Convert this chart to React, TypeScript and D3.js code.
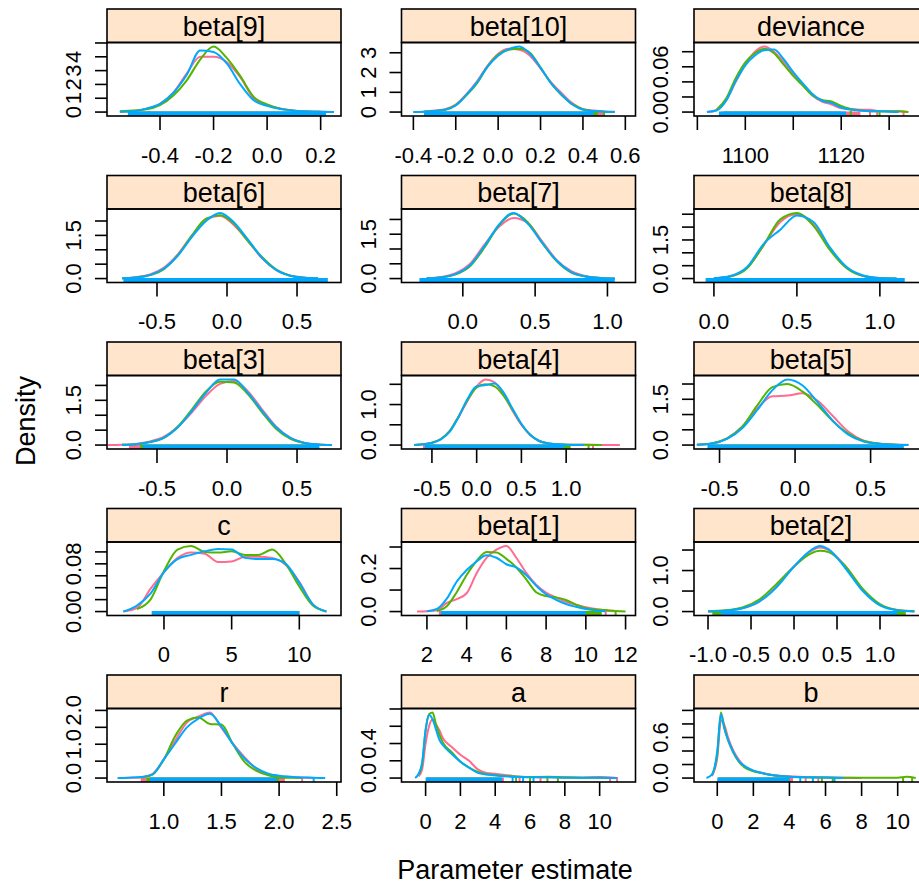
import * as d3 from "d3";

type Dens = (number | null)[];

// chains: pink, green, blue
const chainColors = ["#FF6C91", "#53B400", "#00A9FF"];

// ---- beta[9]
const beta9X = [-0.55, -0.5, -0.45, -0.4, -0.35, -0.3, -0.25, -0.2, -0.15, -0.1, -0.05, 0, 0.05, 0.1, 0.15, 0.2, 0.25];
const beta9Dens: Dens[] = [
  [0.01, 0.08, 0.25, 0.6, 1.4, 2.8, 4.0, 4.0, 3.6, 2.5, 1.0, 0.5, 0.25, 0.12, 0.06, 0.03, 0.01],
  [0.05, 0.12, 0.2, 0.5, 1.2, 2.3, 3.8, 4.75, 3.9, 2.6, 1.1, 0.55, 0.25, 0.1, 0.04, 0.02, null],
  [0.02, 0.05, 0.25, 0.6, 1.4, 2.7, 4.45, 4.35, 3.5, 2.0, 0.85, 0.45, 0.22, 0.1, 0.04, 0.02, 0.0],
];
const beta9Rug = [[-0.48, 0.2], [-0.5, 0.16, -0.44], [-0.52, 0.22]];
const beta9XLim = [-0.598, 0.276];
const beta9XTicks = [-0.4, -0.2, 0, 0.2];
const beta9XLabels = ["-0.4", "-0.2", "0.0", "0.2"];
const beta9YTicks = [0, 1, 2, 3, 4, 5];
const beta9YLabels = ["0", "1", "2", "3", "4", ""];

// ---- beta[10]
const beta10X = [-0.4, -0.35, -0.3, -0.25, -0.2, -0.15, -0.1, -0.05, 0, 0.05, 0.1, 0.15, 0.2, 0.25, 0.3, 0.35, 0.4, 0.45, 0.5, 0.55];
const beta10Dens: Dens[] = [
  [0.0, 0.02, 0.08, 0.15, 0.38, 0.9, 1.55, 2.35, 2.95, 3.2, 3.15, 2.85, 2.2, 1.5, 0.95, 0.45, 0.15, 0.08, 0.03, 0.01],
  [null, 0.03, 0.06, 0.12, 0.35, 0.85, 1.45, 2.3, 2.9, 3.15, 3.2, 3.0, 2.25, 1.45, 0.85, 0.4, 0.15, 0.06, 0.02, 0.0],
  [0.0, 0.02, 0.06, 0.12, 0.33, 0.87, 1.5, 2.3, 2.85, 3.18, 3.32, 2.95, 2.25, 1.45, 0.88, 0.38, 0.12, 0.05, 0.02, 0.0],
];
const beta10Rug = [[-0.33, 0.5], [-0.32, 0.47, 0.5], [-0.35, 0.45]];
const beta10XLim = [-0.456, 0.648];
const beta10XTicks = [-0.4, -0.2, 0, 0.2, 0.4, 0.6];
const beta10XLabels = ["-0.4", "-0.2", "0.0", "0.2", "0.4", "0.6"];
const beta10YTicks = [0, 1, 2, 3];
const beta10YLabels = ["0", "1", "2", "3"];

// ---- deviance
const devX = [1092, 1094, 1096, 1098, 1100, 1102, 1104, 1106, 1108, 1110, 1112, 1114, 1116, 1118, 1120, 1122, 1124, 1126, 1128, 1130, 1132, 1134];
const devDens: Dens[] = [
  [0, 0.003, 0.016, 0.04, 0.063, 0.08, 0.087, 0.08, 0.066, 0.05, 0.036, 0.022, 0.014, 0.01, 0.005, 0.004, 0.003, 0.003, 0.001, 0.001, 0.001, 0],
  [null, 0.003, 0.018, 0.045, 0.066, 0.078, 0.084, 0.078, 0.063, 0.048, 0.035, 0.022, 0.016, 0.014, 0.008, 0.004, 0.002, 0.001, 0.001, 0.001, 0.001, 0],
  [0, 0.002, 0.015, 0.041, 0.062, 0.075, 0.082, 0.083, 0.07, 0.053, 0.038, 0.024, 0.015, 0.012, 0.006, 0.003, 0.002, 0.001, 0.001, 0.0005, 0, null],
];
const devRug = [[1095, 1124, 1126, 1127.5, 1133], [1095.5, 1120, 1122, 1128], [1094.5, 1121]];
const devXLim = [1089.3, 1138.1];
const devXTicks = [1090, 1100, 1110, 1120, 1130];
const devXLabels = ["", "1100", "", "1120", ""];
const devYTicks = [0, 0.02, 0.04, 0.06, 0.08];
const devYLabels = ["0.00", "", "", "0.06", ""];

// ---- beta[6]
const beta6X = [-0.75, -0.65, -0.55, -0.45, -0.35, -0.25, -0.15, -0.05, 0.05, 0.15, 0.25, 0.35, 0.45, 0.55, 0.65];
const beta6Dens: Dens[] = [
  [0.01, 0.05, 0.14, 0.38, 0.85, 1.5, 2.05, 2.18, 1.85, 1.3, 0.7, 0.3, 0.11, 0.04, 0.01],
  [0.01, 0.04, 0.12, 0.33, 0.82, 1.5, 2.08, 2.2, 1.9, 1.3, 0.75, 0.32, 0.1, 0.03, 0.01],
  [0.01, 0.04, 0.12, 0.35, 0.8, 1.45, 2.0, 2.28, 1.95, 1.35, 0.72, 0.3, 0.1, 0.03, 0.01],
];
const beta6Rug = [[-0.72, 0.7], [-0.7, 0.68], [-0.74, 0.72]];
const beta6XLim = [-0.857, 0.814];
const beta6XTicks = [-0.5, 0, 0.5];
const beta6XLabels = ["-0.5", "0.0", "0.5"];
const beta6YTicks = [0, 0.5, 1, 1.5, 2];
const beta6YLabels = ["0.0", "", "", "1.5", ""];

// ---- beta[7]
const beta7X = [-0.25, -0.15, -0.05, 0.05, 0.15, 0.25, 0.35, 0.45, 0.55, 0.65, 0.75, 0.85, 0.95, 1.05];
const beta7Dens: Dens[] = [
  [0.01, 0.05, 0.18, 0.5, 1.15, 1.75, 2.05, 1.88, 1.25, 0.62, 0.25, 0.08, 0.02, 0.0],
  [0.01, 0.04, 0.14, 0.42, 1.05, 1.8, 2.2, 1.9, 1.2, 0.58, 0.2, 0.07, 0.02, 0.0],
  [0.01, 0.04, 0.15, 0.45, 1.1, 1.82, 2.22, 1.85, 1.2, 0.6, 0.22, 0.07, 0.02, 0.0],
];
const beta7Rug = [[-0.28, 1.0], [-0.25, 0.98], [-0.3, 1.05]];
const beta7XLim = [-0.424, 1.194];
const beta7XTicks = [0, 0.5, 1];
const beta7XLabels = ["0.0", "0.5", "1.0"];
const beta7YTicks = [0, 0.5, 1, 1.5, 2];
const beta7YLabels = ["0.0", "", "", "1.5", ""];

// ---- beta[8]
const beta8X = [0.0, 0.1, 0.2, 0.3, 0.4, 0.5, 0.6, 0.7, 0.8, 0.9, 1.0, 1.1];
const beta8Dens: Dens[] = [
  [0.01, 0.09, 0.42, 1.3, 2.2, 2.5, 2.1, 1.15, 0.42, 0.1, 0.02, 0.0],
  [0.01, 0.08, 0.4, 1.3, 2.3, 2.55, 2.05, 1.1, 0.4, 0.1, 0.02, 0.0],
  [0.01, 0.1, 0.45, 1.35, 1.9, 2.45, 2.2, 1.2, 0.45, 0.12, 0.02, 0.0],
];
const beta8Rug = [[0.0, 1.1], [0.02, 1.08], [-0.05, 1.15]];
const beta8XLim = [-0.12, 1.29];
const beta8XTicks = [0, 0.5, 1];
const beta8XLabels = ["0.0", "0.5", "1.0"];
const beta8YTicks = [0, 0.5, 1, 1.5, 2, 2.5];
const beta8YLabels = ["0.0", "", "", "1.5", "", ""];

// ---- beta[3]
const beta3X = [-0.85, -0.75, -0.65, -0.55, -0.45, -0.35, -0.25, -0.15, -0.05, 0.05, 0.15, 0.25, 0.35, 0.45, 0.55, 0.65, 0.75];
const beta3Dens: Dens[] = [
  [0.0, 0.01, 0.04, 0.12, 0.28, 0.62, 1.1, 1.65, 2.05, 2.15, 1.8, 1.2, 0.62, 0.25, 0.08, 0.02, 0.0],
  [null, 0.01, 0.03, 0.1, 0.24, 0.62, 1.2, 1.8, 2.12, 2.1, 1.7, 1.1, 0.55, 0.22, 0.07, 0.02, 0.0],
  [null, 0.01, 0.03, 0.1, 0.25, 0.6, 1.15, 1.75, 2.2, 2.2, 1.75, 1.15, 0.6, 0.25, 0.08, 0.02, 0.0],
];
const beta3Rug = [[-0.7, 0.62], [-0.62, 0.6], [-0.6, 0.66]];
const beta3XLim = [-0.857, 0.814];
const beta3XTicks = [-0.5, 0, 0.5];
const beta3XLabels = ["-0.5", "0.0", "0.5"];
const beta3YTicks = [0, 0.5, 1, 1.5, 2];
const beta3YLabels = ["0.0", "", "", "1.5", ""];

// ---- beta[4]
const beta4X = [-0.7, -0.6, -0.5, -0.4, -0.3, -0.2, -0.1, 0, 0.1, 0.2, 0.3, 0.4, 0.5, 0.6, 0.7, 0.8, 0.9, 1.0, 1.2, 1.4, 1.6];
const beta4Dens: Dens[] = [
  [0.0, 0.02, 0.06, 0.15, 0.35, 0.7, 1.1, 1.45, 1.62, 1.55, 1.25, 0.85, 0.5, 0.25, 0.1, 0.04, 0.02, 0.01, 0.005, 0.003, 0.0],
  [0.0, 0.02, 0.06, 0.15, 0.35, 0.72, 1.12, 1.42, 1.5, 1.45, 1.22, 0.88, 0.52, 0.25, 0.1, 0.04, 0.02, 0.01, 0.005, 0.0, null],
  [0.0, 0.02, 0.05, 0.14, 0.33, 0.7, 1.15, 1.45, 1.48, 1.52, 1.3, 0.9, 0.52, 0.25, 0.1, 0.04, 0.02, 0.01, 0.0, null, null],
];
const beta4Rug = [[-0.6, 1.0, 1.3], [-0.55, 1.05, 1.25], [-0.58, 0.98]];
const beta4XLim = [-0.84, 1.775];
const beta4XTicks = [-0.5, 0, 0.5, 1];
const beta4XLabels = ["-0.5", "0.0", "0.5", "1.0"];
const beta4YTicks = [0, 0.5, 1, 1.5];
const beta4YLabels = ["0.0", "", "1.0", ""];

// ---- beta[5]
const beta5X = [-0.65, -0.55, -0.45, -0.35, -0.25, -0.15, -0.05, 0.05, 0.15, 0.25, 0.35, 0.45, 0.55, 0.65, 0.75];
const beta5Dens: Dens[] = [
  [0.01, 0.05, 0.22, 0.6, 1.2, 1.6, 1.62, 1.7, 1.45, 0.95, 0.45, 0.15, 0.05, 0.02, 0.01],
  [0.01, 0.06, 0.22, 0.6, 1.3, 1.9, 2.0, 1.75, 1.3, 0.78, 0.38, 0.14, 0.05, 0.02, 0.0],
  [0.01, 0.05, 0.2, 0.55, 1.15, 1.8, 2.15, 1.95, 1.4, 0.8, 0.35, 0.12, 0.04, 0.01, 0.0],
];
const beta5Rug = [[-0.55, 0.7], [-0.55, 0.68], [-0.58, 0.72]];
const beta5XLim = [-0.669, 0.88];
const beta5XTicks = [-0.5, 0, 0.5];
const beta5XLabels = ["-0.5", "0.0", "0.5"];
const beta5YTicks = [0, 0.5, 1, 1.5, 2];
const beta5YLabels = ["0.0", "", "", "1.5", ""];

// ---- c
const cX = [-3, -2, -1, 0, 1, 2, 3, 4, 5, 6, 7, 8, 9, 10, 11, 12];
const cDens: Dens[] = [
  [0.0, 0.006, 0.038, 0.066, 0.09, 0.099, 0.097, 0.083, 0.084, 0.092, 0.092, 0.09, 0.078, 0.05, 0.012, 0.0],
  [null, 0.004, 0.02, 0.068, 0.104, 0.11, 0.1, 0.099, 0.101, 0.095, 0.095, 0.104, 0.08, 0.042, 0.01, 0.0],
  [0.0, 0.01, 0.03, 0.066, 0.088, 0.095, 0.101, 0.105, 0.104, 0.09, 0.088, 0.088, 0.08, 0.048, 0.012, 0.0],
];
const cRug = [[-0.9, 10], [-0.8, 10], [-0.9, 10]];
const cXLim = [-4.21, 13.08];
const cXTicks = [0, 5, 10];
const cXLabels = ["0", "5", "10"];
const cYTicks = [0, 0.02, 0.04, 0.06, 0.08, 0.1];
const cYLabels = ["0.00", "", "", "", "0.08", ""];

// ---- beta[1]
const beta1X = [1.5, 2, 2.5, 3, 3.5, 4, 4.5, 5, 5.5, 6, 6.5, 7, 7.5, 8, 8.5, 9, 9.5, 10, 10.5, 11, 11.5, 12];
const beta1Dens: Dens[] = [
  [0, 0.002, 0.006, 0.04, 0.058, 0.085, 0.178, 0.25, 0.288, 0.305, 0.25, 0.18, 0.125, 0.088, 0.065, 0.045, 0.032, 0.02, 0.012, 0.004, 0.001, null],
  [null, null, 0.003, 0.025, 0.09, 0.17, 0.235, 0.277, 0.275, 0.245, 0.205, 0.15, 0.09, 0.072, 0.066, 0.054, 0.032, 0.016, 0.01, 0.007, 0.003, 0],
  [null, 0.002, 0.012, 0.06, 0.139, 0.193, 0.233, 0.262, 0.25, 0.22, 0.205, 0.17, 0.12, 0.08, 0.055, 0.035, 0.022, 0.012, 0.005, 0.001, null, null],
];
const beta1Rug = [[2.6, 10.5, 11], [2.9, 10.8, 11.5], [2.7, 10]];
const beta1XLim = [0.72, 12.5];
const beta1XTicks = [2, 4, 6, 8, 10, 12];
const beta1XLabels = ["2", "4", "6", "8", "10", "12"];
const beta1YTicks = [0, 0.1, 0.2, 0.3];
const beta1YLabels = ["0.0", "", "0.2", ""];

// ---- beta[2]
const beta2X = [-1.0, -0.8, -0.6, -0.4, -0.2, 0.0, 0.2, 0.3, 0.4, 0.6, 0.8, 1.0, 1.2, 1.4];
const beta2Dens: Dens[] = [
  [0.0, 0.02, 0.08, 0.25, 0.62, 1.1, 1.48, 1.56, 1.5, 1.1, 0.52, 0.16, 0.04, 0.01],
  [0.01, 0.03, 0.1, 0.3, 0.68, 1.1, 1.42, 1.48, 1.45, 1.1, 0.55, 0.18, 0.04, 0.01],
  [0.0, 0.02, 0.08, 0.25, 0.6, 1.1, 1.5, 1.6, 1.52, 1.05, 0.5, 0.15, 0.03, 0.0],
];
const beta2Rug = [[-0.9, 1.25], [-0.95, 1.3], [-0.85, 1.2]];
const beta2XLim = [-1.163, 1.558];
const beta2XTicks = [-1, -0.5, 0, 0.5, 1];
const beta2XLabels = ["-1.0", "-0.5", "0.0", "0.5", "1.0"];
const beta2YTicks = [0, 0.5, 1, 1.5];
const beta2YLabels = ["0.0", "", "1.0", ""];

// ---- r
const rX = [0.6, 0.7, 0.8, 0.9, 1.0, 1.1, 1.2, 1.3, 1.4, 1.5, 1.6, 1.7, 1.8, 1.9, 2.0, 2.1, 2.2, 2.3, 2.4];
const rDens: Dens[] = [
  [0, 0.01, 0.02, 0.12, 0.56, 1.12, 1.64, 1.82, 1.94, 1.48, 1.02, 0.62, 0.28, 0.12, 0.05, 0.03, 0.02, 0.0, null],
  [null, null, 0.02, 0.1, 0.55, 1.25, 1.7, 1.79, 1.6, 1.58, 1.0, 0.48, 0.22, 0.09, 0.02, 0.01, 0.0, null, null],
  [0, 0.01, 0.03, 0.1, 0.55, 1.03, 1.5, 1.76, 1.9, 1.52, 1.0, 0.58, 0.3, 0.14, 0.07, 0.04, 0.02, 0.01, 0],
];
const rRug = [[0.8, 2.05, 2.2], [0.85, 2.0], [0.88, 1.98, 2.3]];
const rXLim = [0.507, 2.537];
const rXTicks = [1.0, 1.5, 2.0, 2.5];
const rXLabels = ["1.0", "1.5", "2.0", "2.5"];
const rYTicks = [0, 0.5, 1, 1.5, 2];
const rYLabels = ["0.0", "", "1.0", "", "2.0"];

// ---- a
const aX = [-0.6, -0.4, -0.2, 0, 0.2, 0.4, 0.6, 0.8, 1.0, 1.5, 2.0, 2.5, 3.0, 3.5, 4.0, 5, 6, 7, 8, 9, 10, 11];
const aDens: Dens[] = [
  [null, 0.02, 0.1, 0.4, 0.6, 0.68, 0.62, 0.55, 0.46, 0.36, 0.27, 0.2, 0.1, 0.06, 0.05, 0.025, 0.012, 0.01, 0.006, 0.005, 0.012, 0.0],
  [null, 0.04, 0.16, 0.55, 0.74, 0.76, 0.62, 0.5, 0.41, 0.3, 0.19, 0.12, 0.07, 0.045, 0.035, 0.02, 0.012, 0.015, 0.008, 0.005, 0.005, 0],
  [0, 0.05, 0.18, 0.56, 0.73, 0.68, 0.56, 0.44, 0.38, 0.28, 0.19, 0.12, 0.06, 0.04, 0.03, 0.015, 0.01, 0.008, 0.005, 0.004, 0.004, 0],
];
const aRug = [[0.05, 4.5, 5.4, 6.6, 10.6, 11.0], [0.05, 4.3, 5.2, 6.0, 7.0, 7.6], [0.0, 4.4, 5.0, 5.6, 6.2]];
const aXLim = [-1.385, 12.06];
const aXTicks = [0, 2, 4, 6, 8, 10];
const aXLabels = ["0", "2", "4", "6", "8", "10"];
const aYTicks = [0, 0.2, 0.4, 0.6, 0.8];
const aYLabels = ["0.0", "", "0.4", "", ""];

// ---- b
const bX = [-0.6, -0.3, 0, 0.2, 0.4, 0.6, 0.9, 1.2, 1.5, 2, 2.5, 3, 4, 5, 6, 7, 8, 9, 10, 10.5, 11];
const bDens: Dens[] = [
  [null, 0.03, 0.3, 0.85, 0.78, 0.6, 0.4, 0.27, 0.18, 0.11, 0.075, 0.05, 0.025, 0.012, 0.01, 0.006, 0, null, null, null, null],
  [null, 0.04, 0.35, 0.97, 0.74, 0.56, 0.37, 0.24, 0.16, 0.1, 0.07, 0.045, 0.02, 0.012, 0.008, 0.006, 0.006, 0.006, 0.006, 0.02, 0],
  [0, 0.05, 0.4, 0.94, 0.72, 0.56, 0.38, 0.25, 0.18, 0.11, 0.075, 0.045, 0.02, 0.012, 0.008, 0, null, null, null, null, null],
];
const bRug = [[0.05, 4.2, 4.9, 5.6], [0.05, 4.0, 5.8, 6.4, 10.3, 10.8], [0.0, 4.0, 4.6, 5.3, 6.5]];
const bXLim = [-1.29, 11.68];
const bXTicks = [0, 2, 4, 6, 8, 10];
const bXLabels = ["0", "2", "4", "6", "8", "10"];
const bYTicks = [0, 0.2, 0.4, 0.6, 0.8, 1.0];
const bYLabels = ["0.0", "", "", "0.6", "", ""];

type PanelSpec = {
  name: string;
  x: number[];
  dens: Dens[];
  rug: number[][];
  xLim: number[];
  xTicks: number[];
  xLabels: string[];
  yTicks: number[];
  yLabels: string[];
};

const mk = (name: string, x: number[], dens: Dens[], rug: number[][], xLim: number[], xTicks: number[], xLabels: string[], yTicks: number[], yLabels: string[]): PanelSpec =>
  ({ name, x, dens, rug, xLim, xTicks, xLabels, yTicks, yLabels });

// row-major, top row first
const panels: PanelSpec[] = [
  mk("beta[9]", beta9X, beta9Dens, beta9Rug, beta9XLim, beta9XTicks, beta9XLabels, beta9YTicks, beta9YLabels),
  mk("beta[10]", beta10X, beta10Dens, beta10Rug, beta10XLim, beta10XTicks, beta10XLabels, beta10YTicks, beta10YLabels),
  mk("deviance", devX, devDens, devRug, devXLim, devXTicks, devXLabels, devYTicks, devYLabels),
  mk("beta[6]", beta6X, beta6Dens, beta6Rug, beta6XLim, beta6XTicks, beta6XLabels, beta6YTicks, beta6YLabels),
  mk("beta[7]", beta7X, beta7Dens, beta7Rug, beta7XLim, beta7XTicks, beta7XLabels, beta7YTicks, beta7YLabels),
  mk("beta[8]", beta8X, beta8Dens, beta8Rug, beta8XLim, beta8XTicks, beta8XLabels, beta8YTicks, beta8YLabels),
  mk("beta[3]", beta3X, beta3Dens, beta3Rug, beta3XLim, beta3XTicks, beta3XLabels, beta3YTicks, beta3YLabels),
  mk("beta[4]", beta4X, beta4Dens, beta4Rug, beta4XLim, beta4XTicks, beta4XLabels, beta4YTicks, beta4YLabels),
  mk("beta[5]", beta5X, beta5Dens, beta5Rug, beta5XLim, beta5XTicks, beta5XLabels, beta5YTicks, beta5YLabels),
  mk("c", cX, cDens, cRug, cXLim, cXTicks, cXLabels, cYTicks, cYLabels),
  mk("beta[1]", beta1X, beta1Dens, beta1Rug, beta1XLim, beta1XTicks, beta1XLabels, beta1YTicks, beta1YLabels),
  mk("beta[2]", beta2X, beta2Dens, beta2Rug, beta2XLim, beta2XTicks, beta2XLabels, beta2YTicks, beta2YLabels),
  mk("r", rX, rDens, rRug, rXLim, rXTicks, rXLabels, rYTicks, rYLabels),
  mk("a", aX, aDens, aRug, aXLim, aXTicks, aXLabels, aYTicks, aYLabels),
  mk("b", bX, bDens, bRug, bXLim, bXTicks, bXLabels, bYTicks, bYLabels),
];

const FONT = "'Liberation Sans', Arial, sans-serif";
const colLeft = [107, 401.5, 694];
const PW = 234;
const STRIP_H = 33.5;
const PH = 73.5;
const rowTop = (r: number) => 9 + 166.5 * r;

function Panel({ p, left, top, id }: { p: PanelSpec; left: number; top: number; id: string }) {
  const pTop = top + STRIP_H;
  const pBot = pTop + PH;
  const x = d3.scaleLinear().domain(p.xLim).range([left, left + PW]);
  const ymax = d3.max(p.dens.flat().filter((v) => v != null) as number[]) ?? 1;
  const y = d3.scaleLinear().domain([-0.06 * ymax, 1.06 * ymax]).range([pBot, pTop]);
  const line = d3
    .line<number | null>()
    .defined((d) => d != null)
    .x((_, i) => x(p.x[i]))
    .y((d) => y(d as number))
    .curve(d3.curveMonotoneX);

  return (
    <g>
      <defs>
        <clipPath id={id}>
          <rect x={left} y={pTop} width={PW} height={PH} />
        </clipPath>
      </defs>
      <rect x={left} y={top} width={PW} height={STRIP_H} fill="#ffe5cc" stroke="#000" strokeWidth={1.6} />
      <text x={left + PW / 2} y={top + STRIP_H / 2 + 1} textAnchor="middle" dominantBaseline="central" fontSize={27} fontFamily={FONT}>
        {p.name}
      </text>
      <g clipPath={`url(#${id})`}>
        {p.dens.map((d, c) => (
          <g key={c}>
            <path d={line(d) ?? ""} fill="none" stroke={chainColors[c]} strokeWidth={2} />
            <rect
              x={x(p.rug[c][0])}
              y={pBot - 4.5}
              width={x(p.rug[c][1]) - x(p.rug[c][0])}
              height={4.5}
              fill={chainColors[c]}
            />
            {p.rug[c].slice(2).map((t, k) => (
              <line key={k} x1={x(t)} x2={x(t)} y1={pBot} y2={pBot - 5} stroke={chainColors[c]} strokeWidth={2} />
            ))}
          </g>
        ))}
      </g>
      <rect x={left} y={pTop} width={PW} height={PH} fill="none" stroke="#000" strokeWidth={1.6} />
      {p.xTicks.map((t, i) => (
        <g key={"x" + i}>
          <line x1={x(t)} x2={x(t)} y1={pBot} y2={pBot + 14} stroke="#000" strokeWidth={1.6} />
          {p.xLabels[i] && (
            <text x={x(t)} y={pBot + 39} textAnchor="middle" dominantBaseline="central" fontSize={22} fontFamily={FONT}>
              {p.xLabels[i]}
            </text>
          )}
        </g>
      ))}
      {p.yTicks
        .filter((t) => y(t) >= pTop - 0.5 && y(t) <= pBot + 0.5)
        .map((t, i) => (
          <g key={"y" + i}>
            <line x1={left - 12} x2={left} y1={y(t)} y2={y(t)} stroke="#000" strokeWidth={1.6} />
            {p.yLabels[p.yTicks.indexOf(t)] && (
              <text
                transform={`translate(${left - 33.5},${y(t)}) rotate(-90)`}
                textAnchor="middle"
                dominantBaseline="central"
                fontSize={22}
                fontFamily={FONT}
              >
                {p.yLabels[p.yTicks.indexOf(t)]}
              </text>
            )}
          </g>
        ))}
    </g>
  );
}

export default function App() {
  return (
    <svg width={919} height={888} style={{ position: "absolute", left: 0, top: 0, background: "#fff" }}>
      <rect x={0} y={0} width={919} height={888} fill="#fff" />
      {panels.map((p, i) => (
        <Panel key={p.name} p={p} left={colLeft[i % 3]} top={rowTop(Math.floor(i / 3))} id={`clip${i}`} />
      ))}
      <text transform="translate(26,421) rotate(-90)" textAnchor="middle" dominantBaseline="central" fontSize={27} fontFamily={FONT}>
        Density
      </text>
      <text x={515} y={870} textAnchor="middle" dominantBaseline="central" fontSize={27} fontFamily={FONT}>
        Parameter estimate
      </text>
    </svg>
  );
}
